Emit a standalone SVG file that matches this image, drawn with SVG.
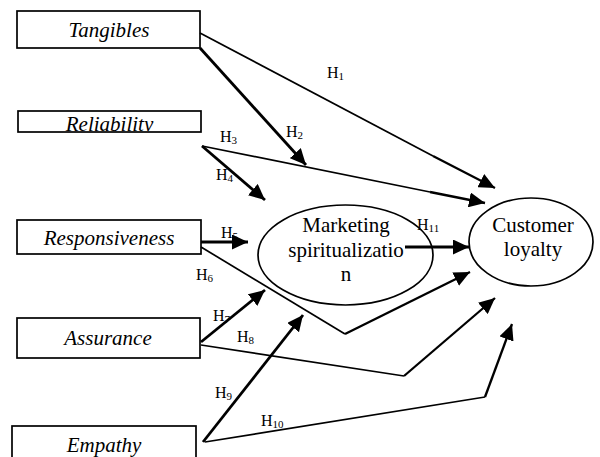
<svg xmlns="http://www.w3.org/2000/svg" width="600" height="457" viewBox="0 0 600 457">
<style>
.box{fill:#fff;stroke:#000;stroke-width:1.7}
.ell{fill:#fff;stroke:#000;stroke-width:1.7}
.nt{font-family:"Liberation Serif","Times New Roman","DejaVu Serif",serif;font-size:21px;fill:#000;text-anchor:middle}
.it{font-style:italic}
.lbl{font-family:"Liberation Serif","Times New Roman","DejaVu Serif",serif;font-size:16px;fill:#000}
.thin{fill:none;stroke:#000;stroke-width:1.7}
.thick{fill:none;stroke:#000;stroke-width:2.8}
.mid{fill:none;stroke:#000;stroke-width:2.3}
</style>
<defs>
<marker id="ah" markerUnits="userSpaceOnUse" markerWidth="16" markerHeight="15" refX="16" refY="7.5" orient="auto">
<path d="M0,0 L16,7.5 L0,15 z" fill="#000"/>
</marker>
<clipPath id="relclip"><rect x="18" y="112" width="182" height="19"/></clipPath>
</defs>
<g id="tangibles">
<rect class="box" x="17" y="11" width="183" height="37"/>
<text class="nt it" x="109" y="37">Tangibles</text>
</g>
<g id="reliability">
<rect class="box" x="18" y="111" width="183" height="21"/>
<text class="nt it" x="109.5" y="131" clip-path="url(#relclip)">Reliability</text>
</g>
<g id="responsiveness">
<rect class="box" x="17" y="220" width="184" height="34"/>
<text class="nt it" x="109" y="245">Responsiveness</text>
</g>
<g id="assurance">
<rect class="box" x="17" y="318" width="183" height="40"/>
<text class="nt it" x="108" y="345">Assurance</text>
</g>
<g id="empathy">
<rect class="box" x="12" y="426" width="184" height="40"/>
<text class="nt it" x="104" y="452">Empathy</text>
</g>
<g id="marketing">
<ellipse class="ell" cx="345.5" cy="255" rx="87.5" ry="50"/>
<text class="nt" x="346" y="232">Marketing</text>
<text class="nt" x="346" y="257">spiritualizatio</text>
<text class="nt" x="346" y="281">n</text>
</g>
<g id="loyalty">
<ellipse class="ell" cx="531" cy="242" rx="62" ry="44"/>
<text class="nt" x="533" y="232">Customer</text>
<text class="nt" x="533" y="256">loyalty</text>
</g>
<g id="connectors">
<polyline class="thin" points="200,33 433,156"/>
<polyline class="mid" points="433,156 495,188" marker-end="url(#ah)"/>
<polyline class="thick" points="200,48 306,165" marker-end="url(#ah)"/>
<polyline class="thin" points="202,146 430,192"/>
<polyline class="mid" points="430,192 485,203" marker-end="url(#ah)"/>
<polyline class="thick" points="202,146 265,200" marker-end="url(#ah)"/>
<polyline class="thick" points="201,242 248,242" marker-end="url(#ah)"/>
<polyline class="thin" points="201,247 345,334"/>
<polyline class="mid" points="345,334 470,272" marker-end="url(#ah)"/>
<polyline class="thick" points="201,342 265,290" marker-end="url(#ah)"/>
<polyline class="thin" points="201,345 404,376"/>
<polyline class="mid" points="404,376 495,298" marker-end="url(#ah)"/>
<polyline class="thick" points="203,442 303,315" marker-end="url(#ah)"/>
<polyline class="thin" points="205,442 485,397"/>
<polyline class="mid" points="485,397 512,324" marker-end="url(#ah)"/>
<polyline class="thick" points="405,247 469,247" marker-end="url(#ah)"/>
</g>
<g id="labels">
<text class="lbl" x="327" y="78">H<tspan font-size="11" dy="2">1</tspan></text>
<text class="lbl" x="286" y="137">H<tspan font-size="11" dy="2">2</tspan></text>
<text class="lbl" x="220" y="142">H<tspan font-size="11" dy="2">3</tspan></text>
<text class="lbl" x="216" y="180">H<tspan font-size="11" dy="2">4</tspan></text>
<text class="lbl" x="221" y="238">H<tspan font-size="11" dy="2">5</tspan></text>
<text class="lbl" x="196" y="280">H<tspan font-size="11" dy="2">6</tspan></text>
<text class="lbl" x="213" y="321">H<tspan font-size="11" dy="2">7</tspan></text>
<text class="lbl" x="237" y="342">H<tspan font-size="11" dy="2">8</tspan></text>
<text class="lbl" x="215" y="398">H<tspan font-size="11" dy="2">9</tspan></text>
<text class="lbl" x="261" y="426">H<tspan font-size="11" dy="2">10</tspan></text>
<text class="lbl" x="417" y="230">H<tspan font-size="11" dy="2">11</tspan></text>
</g>
</svg>
